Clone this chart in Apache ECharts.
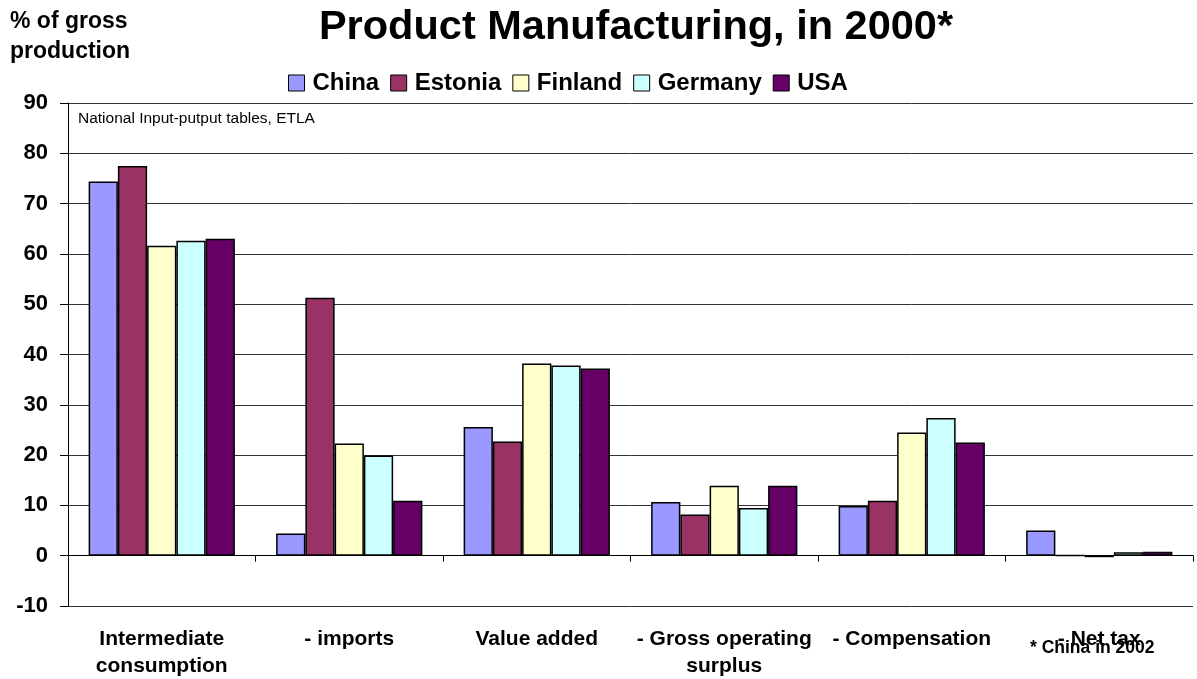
<!DOCTYPE html>
<html><head><meta charset="utf-8">
<script src="https://cdn.jsdelivr.net/npm/echarts@6/dist/echarts.min.js"></script>
<style>html,body{margin:0;padding:0;background:#fff}#c{width:1197px;height:679px}</style>
</head><body><div id="c"></div>
<script>
const categories = ['Intermediate\nconsumption', '- imports', 'Value added', '- Gross operating\nsurplus', '- Compensation', '- Net tax'];
const seriesNames = ['China', 'Estonia', 'Finland', 'Germany', 'USA'];
const china   = [74.4, 4.4, 25.6, 10.7, 9.9, 5.0];
const estonia = [77.5, 51.3, 22.7, 8.2, 10.9, 0.1];
const finland = [61.6, 22.3, 38.2, 13.9, 24.5, -0.3];
const germany = [62.6, 19.9, 37.8, 9.5, 27.4, 0.7];
const usa     = [63.0, 10.9, 37.2, 13.9, 22.5, 0.8];
const yTicks = {min: -10, max: 90, interval: 10};
const colors = ['#9999FF', '#993366', '#FFFFCC', '#CCFFFF', '#660066'];
const allData = [china, estonia, finland, germany, usa];
const FONT = '"Liberation Sans", Arial, sans-serif';

const chart = echarts.init(document.getElementById('c'));
chart.setOption({
  animation: false,
  textStyle: {fontFamily: FONT},
  title: [
    {text: 'Product Manufacturing, in 2000*', left: 631, textAlign: 'center', top: 2,
     textStyle: {fontSize: 41.5, fontWeight: 'bold', color: '#000', fontFamily: FONT}},
    {text: '% of gross\nproduction', left: 5, top: 2,
     textStyle: {fontSize: 23, fontWeight: 'bold', color: '#000', lineHeight: 30, fontFamily: FONT}}
  ],
  legend: {
    data: seriesNames, left: 283, top: 66, itemGap: 11, itemWidth: 16, itemHeight: 16,
    icon: 'rect',
    itemStyle: {borderColor: '#000', borderWidth: 1},
    textStyle: {fontSize: 24, fontWeight: 'bold', color: '#000', fontFamily: FONT, padding: [0, 0, 0, 3]}
  },
  grid: {left: 68, right: 4, top: 103, bottom: 73, outerBoundsMode: 'none', containLabel: false},
  xAxis: [{
    type: 'category', data: categories,
    axisLine: {onZero: true, lineStyle: {color: '#000', width: 1}},
    axisTick: {show: true, length: 6, interval: 0, lineStyle: {color: '#000'}},
    axisLabel: {show: false}
  }, {
    type: 'category', data: categories, position: 'bottom',
    axisLine: {show: false, onZero: false},
    axisTick: {show: false},
    axisLabel: {margin: 20, interval: 0, fontSize: 21, fontWeight: 'bold', color: '#000', lineHeight: 27, fontFamily: FONT}
  }],
  yAxis: {
    type: 'value', min: yTicks.min, max: yTicks.max, interval: yTicks.interval,
    axisLine: {show: true, lineStyle: {color: '#000', width: 1}},
    axisTick: {show: true, length: 8, lineStyle: {color: '#000'}},
    axisLabel: {fontSize: 22, fontWeight: 'bold', color: '#000', margin: 20, fontFamily: FONT},
    splitLine: {show: true, lineStyle: {color: '#333', width: 1}}
  },
  graphic: [
    {type: 'text', left: 78, top: 111, style: {text: 'National Input-putput tables, ETLA', fontSize: 15.5, fill: '#000', fontFamily: FONT}},
    {type: 'text', left: 1030, top: 639, z: 100, style: {text: '* China in 2002', fontSize: 17.5, fontWeight: 'bold', fill: '#000', fontFamily: FONT}}
  ],
  series: seriesNames.map((n, i) => ({
    name: n, type: 'bar', data: allData[i],
    barGap: '0%', barCategoryGap: '22%',
    itemStyle: {color: colors[i], borderColor: '#000', borderWidth: 1.5}
  }))
});
</script></body></html>
